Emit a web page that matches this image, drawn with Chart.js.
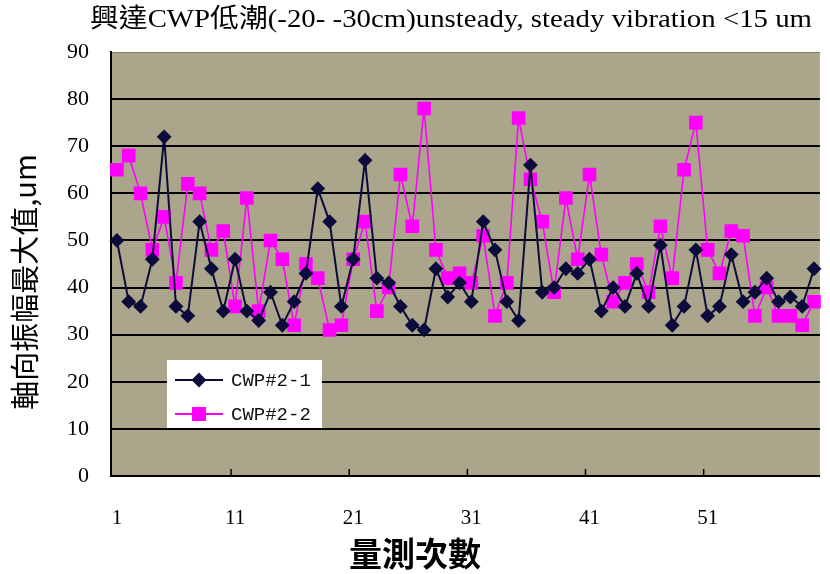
<!DOCTYPE html>
<html>
<head>
<meta charset="utf-8">
<script src="https://cdn.jsdelivr.net/npm/chart.js@4/dist/chart.umd.min.js"></script>
<style>
  body { margin: 0; background: #fff; }
  #wrap { width: 830px; height: 574px; }
</style>
</head>
<body>
<div id="wrap"><canvas id="myChart" width="830" height="574"></canvas></div>
<script>
// measurement index 1..60
const runs = Array.from({ length: 60 }, (_, i) => String(i + 1));

// axial vibration peaks, um
const cwp21 = [
  50, 37, 36, 46, 72, 36, 34, 54, 44, 35,
  46, 35, 33, 39, 32, 37, 43, 61, 54, 36,
  46, 67, 42, 41, 36, 32, 31, 44, 38, 41,
  37, 54, 48, 37, 33, 66, 39, 40, 44, 43,
  46, 35, 40, 36, 43, 36, 49, 32, 36, 48,
  34, 36, 47, 37, 39, 42, 37, 38, 36, 44
];
const cwp22 = [
  65, 68, 60, 48, 55, 41, 62, 60, 48, 52,
  36, 59, 35, 50, 46, 32, 45, 42, 31, 32,
  46, 54, 35, 40, 64, 53, 78, 48, 42, 43,
  41, 51, 34, 41, 76, 63, 54, 39, 59, 46,
  64, 47, 37, 41, 45, 39, 53, 42, 65, 75,
  48, 43, 52, 51, 34, 40, 34, 34, 32, 37
];
const seriesNames = ['CWP#2-1', 'CWP#2-2'];
const yTicks = [0, 10, 20, 30, 40, 50, 60, 70, 80, 90];

const titleText = '興達CWP低潮(-20- -30cm)unsteady, steady vibration <15 um';
const yTitle = '軸向振幅最大值,um';
const xTitle = '量測次數';

// olive plot background + small tick marks on the category axis
const plotDecor = {
  id: 'plotDecor',
  beforeDraw(chart) {
    const { ctx, chartArea: a } = chart;
    ctx.save();
    ctx.fillStyle = '#aba68b';
    ctx.fillRect(a.left, a.top, a.right - a.left, a.bottom - a.top);
    ctx.strokeStyle = '#7d7a66';
    ctx.lineWidth = 1;
    ctx.beginPath();
    ctx.moveTo(a.left, a.top + 0.5);
    ctx.lineTo(a.right, a.top + 0.5);
    ctx.stroke();
    ctx.restore();
  },
  afterDatasetsDraw(chart) {
    const { ctx, chartArea: a } = chart;
    const x = chart.scales.x;
    ctx.save();
    ctx.strokeStyle = '#000';
    ctx.lineWidth = 1.5;
    x.ticks.forEach((t, i) => {
      if (i % 10 !== 0 || i === 0) return;
      const px = x.getPixelForTick(i) - 4;
      ctx.beginPath();
      ctx.moveTo(px, a.bottom);
      ctx.lineTo(px, a.bottom - 7);
      ctx.stroke();
    });
    ctx.restore();
  }
};

// title, axis titles and the boxed legend inside the plot
const textDecor = {
  id: 'textDecor',
  afterDraw(chart) {
    const { ctx } = chart;
    ctx.save();
    ctx.fillStyle = '#000';
    ctx.textBaseline = 'middle';

    // title squeezed to the same span as the old Excel heading
    ctx.font = '26px "Liberation Serif", "Noto Sans CJK TC", serif';
    ctx.textAlign = 'left';
    const tw = ctx.measureText(titleText).width;
    ctx.save();
    ctx.translate(90, 20);
    ctx.scale(722 / tw, 1);
    ctx.fillText(titleText, 0, 0);
    ctx.restore();

    ctx.textAlign = 'center';
    ctx.font = 'bold 33px "Noto Sans CJK TC", sans-serif';
    ctx.fillText(xTitle, 415, 553);

    ctx.save();
    ctx.translate(25, 282);
    ctx.rotate(-Math.PI / 2);
    ctx.font = '29px "Noto Sans CJK TC", sans-serif';
    ctx.fillText(yTitle, 0, 0);
    ctx.restore();

    // legend box
    const bx = 167, by = 360, bw = 155, bh = 68;
    ctx.fillStyle = '#fff';
    ctx.fillRect(bx, by, bw, bh);
    chart.data.datasets.forEach((ds, i) => {
      const cy = by + 20 + i * 34;
      ctx.strokeStyle = ds.borderColor;
      ctx.lineWidth = 2;
      ctx.beginPath();
      ctx.moveTo(bx + 8, cy);
      ctx.lineTo(bx + 56, cy);
      ctx.stroke();
      Chart.helpers.drawPoint(ctx, {
        pointStyle: ds.pointStyle,
        radius: ds.pointRadius,
        borderWidth: 1
      }, bx + 32, cy);
      ctx.fillStyle = ds.pointBackgroundColor;
      ctx.fill();
      ctx.fillStyle = '#111';
      ctx.textAlign = 'left';
      ctx.font = '19px "Liberation Mono", monospace';
      ctx.fillText(ds.label, bx + 64, cy + 1);
    });
    ctx.restore();
  }
};

new Chart(document.getElementById('myChart').getContext('2d'), {
  type: 'line',
  data: {
    labels: runs,
    datasets: [
      {
        label: seriesNames[0],
        data: cwp21,
        borderColor: '#0b0b3c',
        backgroundColor: '#0b0b3c',
        pointBackgroundColor: '#0b0b3c',
        pointBorderColor: '#0b0b3c',
        pointStyle: 'rectRot',
        pointRadius: 6,
        borderWidth: 2,
        tension: 0
      },
      {
        label: seriesNames[1],
        data: cwp22,
        borderColor: '#ff00ff',
        backgroundColor: '#ff00ff',
        pointBackgroundColor: '#ff00ff',
        pointBorderColor: '#ff00ff',
        pointStyle: 'rect',
        pointRadius: 8.5,
        borderWidth: 1.6,
        tension: 0
      }
    ]
  },
  options: {
    responsive: false,
    animation: false,
    layout: { padding: { top: 52, right: 1, left: 0, bottom: 0 } },
    plugins: {
      legend: { display: false },
      title: { display: false },
      tooltip: { enabled: false }
    },
    scales: {
      x: {
        type: 'category',
        offset: true,
        afterFit(s) { s.height = 98; s.paddingLeft = 0; s.paddingRight = 0; },
        grid: { display: false, drawTicks: false },
        border: { display: true, color: '#000', width: 2 },
        ticks: {
          autoSkip: false,
          maxRotation: 0,
          padding: 30,
          color: '#000',
          font: { family: '"Liberation Serif", serif', size: 21 },
          callback(v, i) { return i % 10 === 0 ? runs[i] : ''; }
        }
      },
      y: {
        min: 0,
        max: 90,
        afterFit(s) { s.width = 111; s.paddingTop = 0; s.paddingBottom = 0; },
        afterBuildTicks(s) { s.ticks = yTicks.map(v => ({ value: v })); },
        grid: {
          color: (c) => c.tick && c.tick.value === 90 ? 'rgba(0,0,0,0)' : '#000',
          lineWidth: 2,
          drawTicks: false
        },
        border: { display: true, color: '#000', width: 2 },
        ticks: {
          padding: 22,
          color: '#000',
          font: { family: '"Liberation Serif", serif', size: 22 }
        }
      }
    }
  },
  plugins: [plotDecor, textDecor]
});
</script>
</body>
</html>
